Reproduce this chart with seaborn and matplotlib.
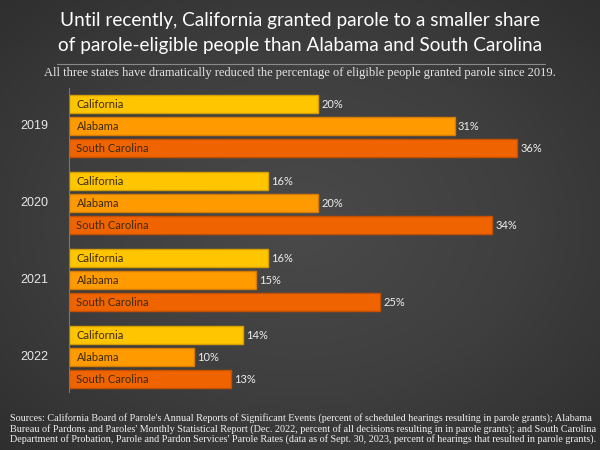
import numpy as np
import pandas as pd
import matplotlib
matplotlib.use("Agg")
import matplotlib.pyplot as plt
import seaborn as sns

years = ["2019", "2020", "2021", "2022"]
states = ["California", "Alabama", "South Carolina"]
california = [20, 16, 16, 14]
alabama = [31, 20, 15, 10]
south_carolina = [36, 34, 25, 13]

colores = {"California": "#FFC600", "Alabama": "#FF9A00", "South Carolina": "#F06400"}
bordes = {"California": "#D79E00", "Alabama": "#D67C00", "South Carolina": "#C65000"}

filas = []
for g, year in enumerate(years):
    for s, (st, vals) in enumerate(zip(states, [california, alabama, south_carolina])):
        filas.append({"year": year, "state": st, "pct": vals[g], "pos": g * 3.5 + s})
df = pd.DataFrame(filas)

sns.set_style("dark")
plt.rcParams["font.family"] = ["Lato", "DejaVu Sans"]

fig = plt.figure(figsize=(6, 4.5), dpi=100)

# fondo con viñeta
bg = fig.add_axes([0, 0, 1, 1], zorder=-1)
yy, xx = np.mgrid[-1:1:300j, -1:1:400j]
r = np.sqrt(xx**2 + yy**2)
bg.imshow(r, cmap=matplotlib.colors.LinearSegmentedColormap.from_list(
    "v", ["#4a4a4a", "#3f3f3f", "#2e2e2e"]), extent=[0, 1, 0, 1],
    aspect="auto", vmin=0, vmax=1.45)
bg.axis("off")

ax = fig.add_axes([0.115, 0.129, 0.83, 0.676])
ax.set_facecolor("none")
sns.barplot(data=df, x="pct", y="pos", hue="state", palette=colores,
            orient="h", native_scale=True, width=0.82, dodge=False,
            legend=False, ax=ax, saturation=1)

for p in ax.patches:
    c = matplotlib.colors.to_hex(p.get_facecolor())
    for st, col in colores.items():
        if c.lower() == col.lower():
            p.set_edgecolor(bordes[st])
            p.set_linewidth(1)

for _, row in df.iterrows():
    ax.text(0.6, row["pos"] + 0.03, row["state"], va="center", ha="left",
            fontsize=8, color="#3a2a10")
    ax.text(row["pct"] + 0.25, row["pos"] + 0.03, f"{row['pct']}%", va="center",
            ha="left", fontsize=8, color="#eeeeee")

for g, year in enumerate(years):
    ax.text(-2.75, g * 3.5 + 1, year, va="center", ha="center", fontsize=9,
            color="#e8e8e8", family=["Liberation Sans"])

ax.set_xlim(0, 40)
ax.set_ylim(13.1, -0.73)
ax.set_xticks([])
ax.set_yticks([])
ax.set_xlabel("")
ax.set_ylabel("")
for sp in ["top", "right", "bottom"]:
    ax.spines[sp].set_visible(False)
ax.spines["left"].set_color("#777777")
ax.spines["left"].set_linewidth(0.8)
ax.grid(False)

fig.text(0.5, 0.955, "Until recently, California granted parole to a smaller share",
         ha="center", va="center", fontsize=13.7, color="white")
fig.text(0.5, 0.9, "of parole-eligible people than Alabama and South Carolina",
         ha="center", va="center", fontsize=13.7, color="white")
fig.add_artist(plt.Line2D([0.095, 0.908], [0.857, 0.857], color="#8a8a8a", lw=0.8))
fig.text(0.5, 0.838, "All three states have dramatically reduced the percentage of eligible people granted parole since 2019.",
         ha="center", va="center", fontsize=9, color="#e6e6e6",
         family=["Liberation Serif"])
fig.text(0.017, 0.047,
         "Sources: California Board of Parole's Annual Reports of Significant Events (percent of scheduled hearings resulting in parole grants); Alabama\n"
         "Bureau of Pardons and Paroles' Monthly Statistical Report (Dec. 2022, percent of all decisions resulting in in parole grants); and South Carolina\n"
         "Department of Probation, Parole and Pardon Services' Parole Rates (data as of Sept. 30, 2023, percent of hearings that resulted in parole grants).",
         ha="left", va="center", fontsize=7.3, color="#f0f0f0", linespacing=1.05,
         family=["Liberation Serif"])

fig.savefig("out.png", dpi=100)
